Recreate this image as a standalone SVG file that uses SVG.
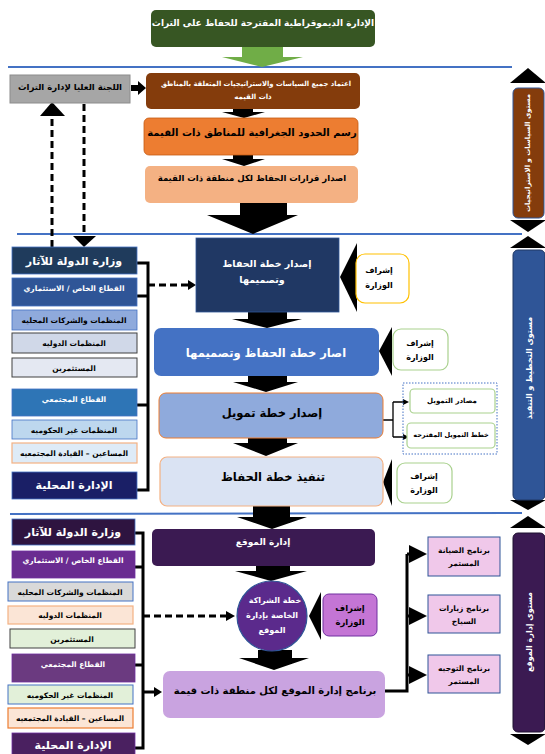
<svg xmlns="http://www.w3.org/2000/svg" width="545" height="754" viewBox="0 0 545 754">
<style>
text{font-family:"DejaVu Sans","Noto Sans",sans-serif;font-weight:bold;text-anchor:middle;dominant-baseline:central}
.w{fill:#fff}
.k{fill:#000}
.blk{fill:#000}
.dash{stroke:#000;stroke-width:3;stroke-dasharray:7,4;fill:none}
.br{stroke:#000;stroke-width:3;fill:none}
.ln{stroke:#000;stroke-width:2.5;fill:none}
.sep{stroke:#4472c4;stroke-width:2}
</style>
<rect width="545" height="754" fill="#fff"/>

<!-- separators -->
<line class="sep" x1="8" y1="67" x2="512" y2="67"/>
<line class="sep" x1="17" y1="234" x2="522" y2="234"/>
<line class="sep" x1="10" y1="514" x2="522" y2="513"/>

<!-- connectors -->
<g id="connectors">
  <path d="M242,46 H283 V57 H303 L262,67 L222,57 H242 Z" fill="#70ad47"/>
  <path d="M131,85 H138 V81 L146,88 L138,95 V91 H131 Z" class="blk"/>
  <path d="M233,109 H253 V112 H265 L244,118 L222,112 H233 Z" class="blk"/>
  <path d="M233,155 H253 V159 H265 L244,166 L222,159 H233 Z" class="blk"/>
  <path d="M240,203 H287 V215 H298 L253,234 L207,215 H240 Z" class="blk"/>
  <line class="dash" x1="52" y1="247" x2="52" y2="116"/>
  <path d="M40,116 L52,102 L65,116 Z" class="blk"/>
  <line class="dash" x1="84" y1="104" x2="84" y2="236"/>
  <path d="M73,236 L96,236 L84,247 Z" class="blk"/>
  <path d="M510,83 L528,68 L546,83 Z" class="blk"/>
  <path d="M510,220 L546,220 L528,232 Z" class="blk"/>
  <path d="M510,248 L528,236 L546,248 Z" class="blk"/>
  <path d="M510,500 L546,500 L528,510 Z" class="blk"/>
  <path d="M510,528 L528,516 L546,528 Z" class="blk"/>
  <path d="M510,734 L546,734 L528,745 Z" class="blk"/>

  <path class="br" d="M137,263 H148 V490 H137 M137,296 H148 M137,405 H148"/>
  <line class="dash" x1="148" y1="285" x2="188" y2="285"/>
  <path d="M188,280 L196,285 L188,290 Z" class="blk"/>
  <path d="M357,243 L340,277 L357,312 Z" class="blk"/>
  <path d="M392,327 L379,351 L392,376 Z" class="blk"/>
  <path d="M392,459 L383,482 L392,506 Z" class="blk"/>
  <path d="M248,312 H287 V319 H302 L267,328 L232,319 H248 Z" class="blk"/>
  <path d="M248,376 H287 V382 H298 L266,392 L233,382 H248 Z" class="blk"/>
  <path d="M248,438 H287 V443 H298 L266,456 L233,443 H248 Z" class="blk"/>
  <path d="M253,506 H290 V517 H307 L272,529 L237,517 H253 Z" class="blk"/>
  <path class="ln" d="M383,420 H393 M393,402 V437 M393,402 H404 M393,437 H404" style="stroke-width:1.3"/>
  <path d="M403,399 L409,402 L403,405 Z" class="blk"/>
  <path d="M403,434 L409,437 L403,440 Z" class="blk"/>

  <path class="br" d="M135,533 H143 V748 H135 M135,567 H143 M135,665 H143"/>
  <line class="dash" x1="143" y1="616" x2="226" y2="616"/>
  <path d="M226,611 L235,616 L226,621 Z" class="blk"/>
  <line class="ln" x1="143" y1="692" x2="155" y2="692" style="stroke-width:3"/>
  <path d="M154,687 L162,692 L154,697 Z" class="blk"/>
  <path d="M256,566 H290 V571 H307 L271,581 L235,571 H256 Z" class="blk"/>
  <path d="M258,650 H292 V658 H309 L274,670 L239,658 H258 Z" class="blk"/>
  <path d="M321,592 L309,616 L321,640 Z" class="blk"/>
  <path class="br" d="M385,691 H407 V554 M407,554 H412 M407,616 H412 M407,675 H412"/>
  <path d="M409,545 L427,554 L409,563 Z" class="blk"/>
  <path d="M409,607 L427,616 L409,625 Z" class="blk"/>
  <path d="M409,666 L427,675 L409,684 Z" class="blk"/>
</g>

<!-- top section -->
<g id="n-title">
  <rect x="151" y="10" width="224" height="37" rx="5" fill="#375623"/>
  <text x="263" y="23" class="w" font-size="9">الإدارة الديموقراطية المقترحة للحفاظ على التراث</text>
</g>
<g id="n-committee">
  <rect x="10" y="75" width="120" height="28" fill="#a6a6a6" stroke="#8c8c8c"/>
  <text x="70" y="87" class="k" font-size="8.5">اللجنة العليا لإدارة التراث</text>
</g>
<g id="n-policies">
  <rect x="146" y="73" width="214" height="36" rx="5" fill="#843c0c"/>
  <text x="256" y="84" class="w" font-size="7" textLength="190" lengthAdjust="spacingAndGlyphs">اعتماد جميع السياسات والاستراتيجيات المتعلقة بالمناطق</text>
  <text x="253" y="97" class="w" font-size="7">ذات القيمه</text>
</g>
<g id="n-boundaries">
  <rect x="144" y="118" width="214" height="37" rx="5" fill="#ed7d31" stroke="#c55a11" stroke-width="0.8"/>
  <text x="252" y="132" class="k" font-size="10">رسم الحدود الجغرافية للمناطق ذات القيمة</text>
</g>
<g id="n-decisions">
  <rect x="145" y="166" width="213" height="37" rx="5" fill="#f4b183"/>
  <text x="252" y="178" class="k" font-size="8.5">اصدار قرارات الحفاظ لكل منطقة ذات القيمة</text>
</g>
<g id="n-level1">
  <rect x="513" y="88" width="31" height="130" rx="5" fill="#843c0c" stroke="#2f5597"/>
  <text transform="translate(528,153) rotate(-90)" class="w" font-size="7">مستوى السياسات و الاستراتيجيات</text>
</g>

<!-- middle section -->
<g id="n-ministry1">
  <rect x="12" y="247" width="125" height="27" fill="#1f3b5c" stroke="#4472c4" stroke-width="0.8"/>
  <text x="74" y="261" class="w" font-size="11">وزارة الدولة للآثار</text>
</g>
<g id="n-private1">
  <rect x="12" y="278" width="125" height="28" fill="#2f5597" stroke="#4472c4" stroke-width="0.8"/>
  <text x="74" y="288" class="w" font-size="7.5">القطاع الخاص / الاستثماري</text>
</g>
<g id="n-localorg1">
  <rect x="12" y="310" width="125" height="20" fill="#8faadc" stroke="#4472c4" stroke-width="0.8"/>
  <text x="74" y="320" class="k" font-size="7.5">المنظمات والشركات المحليه</text>
</g>
<g id="n-intl1">
  <rect x="12" y="333" width="125" height="20" fill="#d0d8e8" stroke="#404040" stroke-width="1"/>
  <text x="74" y="343" class="k" font-size="7.5">المنظمات الدوليه</text>
</g>
<g id="n-invest1">
  <rect x="12" y="358" width="125" height="19" fill="#e4e8f2" stroke="#404040" stroke-width="1"/>
  <text x="74" y="368" class="k" font-size="7.5">المستثمرين</text>
</g>
<g id="n-community1">
  <rect x="12" y="389" width="125" height="27" fill="#2e75b6" stroke="#4472c4" stroke-width="0.8"/>
  <text x="74" y="399" class="w" font-size="7.5">القطاع المجتمعي</text>
</g>
<g id="n-ngo1">
  <rect x="12" y="420" width="125" height="19" fill="#bdd7ee" stroke="#4472c4" stroke-width="0.8"/>
  <text x="74" y="430" class="k" font-size="7.5">المنظمات غير الحكوميه</text>
</g>
<g id="n-leaders1">
  <rect x="12" y="443" width="125" height="20" fill="#deebf7" stroke="#f4b183" stroke-width="1.2"/>
  <text x="74" y="453" class="k" font-size="7.5">المساعين – القيادة المجتمعيه</text>
</g>
<g id="n-localadmin1">
  <rect x="12" y="472" width="125" height="27" fill="#1a1f66" stroke="#4472c4" stroke-width="0.8"/>
  <text x="74" y="485" class="w" font-size="11">الإدارة المحلية</text>
</g>

<g id="n-plan">
  <rect x="196" y="238" width="143" height="74" fill="#203864" stroke="#2f5597" stroke-width="0.8"/>
  <text x="267" y="263" class="w" font-size="9.5">إصدار خطة الحفاظ</text>
  <text x="262" y="279" class="w" font-size="9.5">وتصميمها</text>
</g>
<g id="n-sup1">
  <rect x="356" y="254" width="53" height="49" rx="9" fill="#fff" stroke="#ffc000" stroke-width="1.2"/>
  <text x="379" y="270" class="k" font-size="8">إشراف</text>
  <text x="379" y="285" class="k" font-size="8">الوزارة</text>
</g>
<g id="n-plan2">
  <rect x="154" y="328" width="225" height="48" rx="7" fill="#4472c4"/>
  <text x="266" y="353" class="w" font-size="11.5">اصار خطة الحفاظ وتصميمها</text>
</g>
<g id="n-sup2">
  <rect x="393" y="329" width="55" height="41" rx="8" fill="#fff" stroke="#a9d18e" stroke-width="1.2"/>
  <text x="420" y="343" class="k" font-size="8">إشراف</text>
  <text x="420" y="357" class="k" font-size="8">الوزارة</text>
</g>
<g id="n-funding">
  <rect x="159" y="393" width="224" height="45" rx="7" fill="#8faadc" stroke="#ed7d31" stroke-width="1"/>
  <text x="272" y="413" class="k" font-size="11.5">إصدار خطة تمويل</text>
</g>
<g id="n-fundgroup">
  <rect x="403" y="383" width="94" height="71" fill="none" stroke="#4472c4" stroke-width="1" stroke-dasharray="1.5,1.5"/>
</g>
<g id="n-sources">
  <rect x="410" y="389" width="85" height="24" rx="4" fill="#fff" stroke="#a9d18e" stroke-width="1.2"/>
  <text x="452" y="401" class="k" font-size="7">مصادر التمويل</text>
</g>
<g id="n-proposed">
  <rect x="407" y="423" width="88" height="25" rx="4" fill="#fff" stroke="#a9d18e" stroke-width="1.2"/>
  <text x="451" y="435" class="k" font-size="6.5">خطط التمويل المقترحه</text>
</g>
<g id="n-implement">
  <rect x="160" y="457" width="223" height="49" rx="7" fill="#dae3f3" stroke="#f4b183" stroke-width="1.2"/>
  <text x="273" y="477" class="k" font-size="11.5">تنفيذ خطة الحفاظ</text>
</g>
<g id="n-sup3">
  <rect x="397" y="463" width="55" height="40" rx="8" fill="#fff" stroke="#a9d18e" stroke-width="1.2"/>
  <text x="424" y="476" class="k" font-size="8">إشراف</text>
  <text x="424" y="490" class="k" font-size="8">الوزارة</text>
</g>
<g id="n-level2">
  <rect x="513" y="250" width="32" height="250" rx="5" fill="#2f5597" stroke="#203864"/>
  <text transform="translate(529,368) rotate(-90)" class="w" font-size="8">مستوى التخطيط و التنفيذ</text>
</g>

<!-- bottom section -->
<g id="n-ministry2">
  <rect x="12" y="519" width="123" height="26" fill="#2e1440" stroke="#4472c4" stroke-width="0.8"/>
  <text x="73" y="532" class="w" font-size="11">وزارة الدولة للآثار</text>
</g>
<g id="n-private2">
  <rect x="12" y="551" width="123" height="27" fill="#6a2c91" stroke="#7030a0" stroke-width="0.8"/>
  <text x="73" y="560" class="w" font-size="7.5">القطاع الخاص / الاستثماري</text>
</g>
<g id="n-localorg2">
  <rect x="8" y="582" width="125" height="19" fill="#d9d9d9" stroke="#4472c4" stroke-width="1"/>
  <text x="70" y="592" class="k" font-size="7.5">المنظمات والشركات المحليه</text>
</g>
<g id="n-intl2">
  <rect x="8" y="606" width="125" height="18" fill="#fbe5d6" stroke="#f4b183" stroke-width="1.2"/>
  <text x="70" y="615" class="k" font-size="7.5">المنظمات الدوليه</text>
</g>
<g id="n-invest2">
  <rect x="10" y="629" width="125" height="19" fill="#e2f0d9" stroke="#404040" stroke-width="1"/>
  <text x="72" y="639" class="k" font-size="7.5">المستثمرين</text>
</g>
<g id="n-community2">
  <rect x="12" y="654" width="123" height="28" fill="#6b3a80" stroke="#7030a0" stroke-width="0.8"/>
  <text x="73" y="664" class="w" font-size="7.5">القطاع المجتمعي</text>
</g>
<g id="n-ngo2">
  <rect x="8" y="685" width="125" height="19" fill="#e2f0d9" stroke="#4472c4" stroke-width="1"/>
  <text x="70" y="695" class="k" font-size="7.5">المنظمات غير الحكوميه</text>
</g>
<g id="n-leaders2">
  <rect x="8" y="708" width="125" height="20" fill="#fbe5d6" stroke="#ed7d31" stroke-width="1.2"/>
  <text x="70" y="718" class="k" font-size="7.5">المساعين – القيادة المجتمعيه</text>
</g>
<g id="n-localadmin2">
  <rect x="12" y="733" width="123" height="24" fill="#4a2060" stroke="#7030a0" stroke-width="0.8"/>
  <text x="73" y="745" class="w" font-size="11">الإدارة المحلية</text>
</g>

<g id="n-sitemgmt">
  <rect x="152" y="529" width="223" height="37" rx="5" fill="#3b1a52"/>
  <text x="263" y="542" class="w" font-size="9">إدارة الموقع</text>
</g>
<g id="n-partnership">
  <circle cx="272" cy="616" r="35" fill="#5b2a8c" stroke="#2f5597" stroke-width="1.2"/>
  <text x="275" y="600" class="w" font-size="8">خطة الشراكة</text>
  <text x="272" y="615" class="w" font-size="8">الخاصة بإدارة</text>
  <text x="272" y="630" class="w" font-size="8">الموقع</text>
</g>
<g id="n-sup4">
  <rect x="323" y="594" width="54" height="42" rx="6" fill="#c475d5" stroke="#7030a0" stroke-width="1"/>
  <text x="350" y="608" class="k" font-size="8.5">إشراف</text>
  <text x="350" y="622" class="k" font-size="8.5">الوزارة</text>
</g>
<g id="n-program">
  <rect x="163" y="671" width="222" height="47" rx="7" fill="#c9a3e0"/>
  <text x="275" y="690" class="k" font-size="10">برنامج إدارة الموقع لكل منطقة ذات قيمة</text>
</g>
<g id="n-maint">
  <rect x="428" y="537" width="72" height="39" fill="#f0c8ea" stroke="#2f5597" stroke-width="1"/>
  <text x="464" y="550" class="k" font-size="7.5">برنامج الصيانة</text>
  <text x="464" y="563" class="k" font-size="7.5">المستمر</text>
</g>
<g id="n-visits">
  <rect x="428" y="595" width="72" height="38" fill="#f0c8ea" stroke="#2f5597" stroke-width="1"/>
  <text x="464" y="608" class="k" font-size="7.5">برنامج زيارات</text>
  <text x="464" y="621" class="k" font-size="7.5">السياح</text>
</g>
<g id="n-guidance">
  <rect x="428" y="655" width="72" height="38" fill="#f0c8ea" stroke="#2f5597" stroke-width="1"/>
  <text x="464" y="668" class="k" font-size="7.5">برنامج التوجيه</text>
  <text x="464" y="681" class="k" font-size="7.5">المستمر</text>
</g>
<g id="n-level3">
  <rect x="513" y="533" width="32" height="199" rx="5" fill="#3b1a52" stroke="#1f1030"/>
  <text transform="translate(529,632) rotate(-90)" class="w" font-size="8">مستوى إدارة الموقع</text>
</g>
</svg>
